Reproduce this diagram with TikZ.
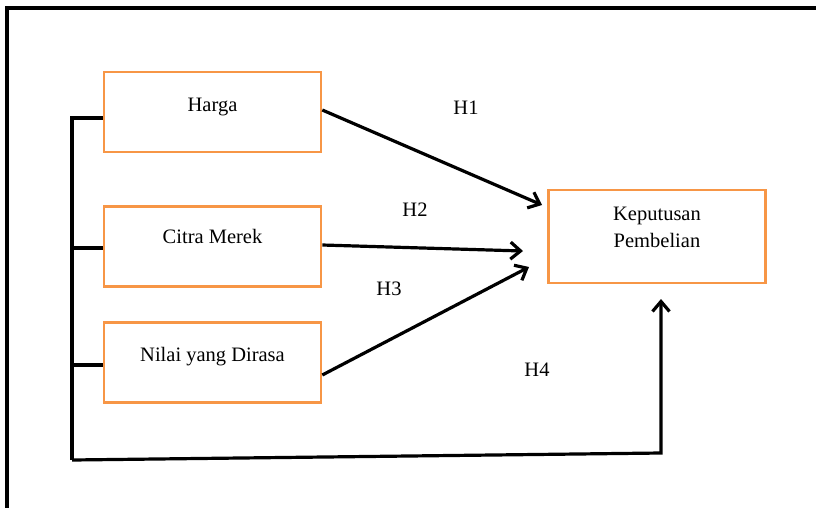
\documentclass[tikz,border=0pt]{standalone}
\usepackage{fontspec}
\setmainfont{Liberation Serif}
\usetikzlibrary{arrows.meta}
\definecolor{boxorange}{RGB}{247,150,70}
\tikzset{
	align=center,
	var/.style={
		draw=boxorange,
		rectangle,
		line width=2.6pt,
		minimum width=217pt,
		minimum height=80pt,
		inner sep=0pt,
	},
	dep/.style={
		var,
		minimum height=93pt,
	},
	conn/.style={
		line width=3.2pt,
	},
	hyp/.style={
		conn,
		-{Straight Barb[length=10pt,width=17pt,line width=3.2pt]}
	},
	lbl/.style={
		font=\fontsize{20.5}{27}\selectfont,
	},
}

\begin{document}
\begin{tikzpicture}[x=1pt,y=-1pt]
		\useasboundingbox (0,0) rectangle (816,507);

		% frame, cut by the page
		\draw[conn] (7,520) -- (7,8) -- (830,8);

		\node[var] 					(harga) at (212.5,112) {};
		\node[var] 					(citra) at (212.5,246.5) {};
		\node[var] 					(nilai) at (212.5,362.5) {};
		\node[dep] 					(kep) at (657,236.5) {};

		\node[lbl] 					(hargat) at ([yshift=5pt]harga.center) {Harga};
		\node[lbl] 					(citrat) at ([yshift=10pt]citra.center) {Citra Merek};
		\node[lbl] 					(nilait) at ([yshift=6pt]nilai.center) {Nilai yang Dirasa};
		\node[lbl] 					(kept) at ([yshift=9pt]kep.center) {Keputusan\\Pembelian};

		\coordinate 				(t1) at (542,205);
		\coordinate 				(t2) at (523,251);
		\coordinate 				(t3) at (529,267);
		\coordinate 				(b1) at (72,118);
		\coordinate 				(b2) at (72,248);
		\coordinate 				(b3) at (72,365);
		\coordinate 				(b4) at (72,460);
		\coordinate 				(b5) at (661,453);
		\coordinate 				(t4) at (661,299);

		\draw[hyp] 					(harga.east |- 0,110) -- (t1);
		\draw[hyp] 					(citra.east |- 0,245) -- (t2);
		\draw[hyp] 					(nilai.east |- 0,375) -- (t3);

		\draw[conn] 				(harga.west |- b1) -- (b1) -- (b4);
		\draw[conn] 				(citra.west |- b2) -- (b2);
		\draw[conn] 				(nilai.west |- b3) -- (b3);
		\draw[hyp] 					(b4) -- (b5) -- (t4);

		\node[lbl] 					(h1) at (466,108) {H1};
		\node[lbl] 					(h2) at (415,210) {H2};
		\node[lbl] 					(h3) at (389,289) {H3};
		\node[lbl] 					(h4) at (537,370) {H4};

	\end{tikzpicture}
\end{document}
